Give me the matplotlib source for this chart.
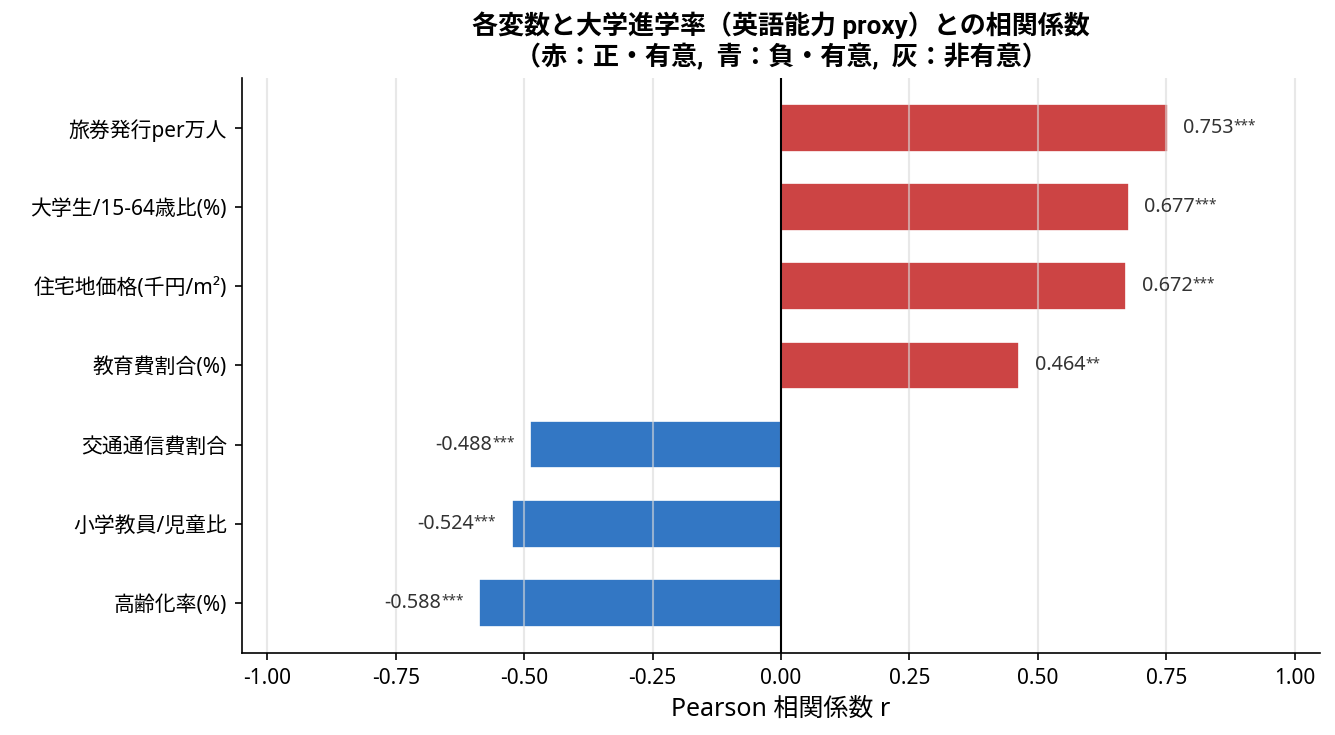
import matplotlib
matplotlib.use("Agg")
import matplotlib.pyplot as plt

plt.rcParams['font.family'] = ['Noto Sans', 'Noto Sans CJK JP', 'DejaVu Sans']
plt.rcParams['axes.unicode_minus'] = False

categories = ["高齢化率(%)", "小学教員/児童比", "交通通信費割合", "教育費割合(%)",
              "住宅地価格(千円/m²)", "大学生/15-64歳比(%)", "旅券発行per万人"]
r_values = [-0.588, -0.524, -0.488, 0.464, 0.672, 0.677, 0.753]
stars = ["***", "***", "***", "**", "***", "***", "***"]
xticks = [-1.00, -0.75, -0.50, -0.25, 0.00, 0.25, 0.50, 0.75, 1.00]

RED = "#cc4444"
BLUE = "#3377c4"
colors = [RED if v > 0 else BLUE for v in r_values]

fig = plt.figure(figsize=(8.9, 4.9), dpi=150)
ax = fig.add_axes([0.181, 0.1116, 0.989 - 0.181, 0.894 - 0.1116])

y = list(range(len(categories)))
ax.barh(y, r_values, height=0.6, color=colors, edgecolor="white", linewidth=0.8)
ax.axvline(0, color="black", linewidth=1)
ax.grid(axis="x", color="#d9d9d9", alpha=0.6, linewidth=1)

ax.set_xlim(-1.05, 1.05)
fig.canvas.draw()
renderer = fig.canvas.get_renderer()
trans = ax.transData.inverted()

for yi, v, s in zip(y, r_values, stars):
    if v > 0:
        t = ax.text(v + 0.03, yi, f"{v:.3f}", ha="left", va="center", fontsize=9.5, color="#333333")
        ax.annotate(s, xy=(1.0, 0.97), xycoords=t, ha="left", va="top", fontsize=6.5, color="#333333")
    else:
        st = ax.text(v - 0.03, yi, s, ha="right", va="center", fontsize=6.5, color="#333333",
                     alpha=0)
        bb = st.get_window_extent(renderer)
        st.remove()
        x_end = trans.transform((bb.x0, bb.y0))[0]
        t = ax.text(x_end, yi, f"{v:.3f}", ha="right", va="center", fontsize=9.5, color="#333333")
        ax.annotate(s, xy=(1.0, 0.97), xycoords=t, ha="left", va="top", fontsize=6.5, color="#333333")

ax.set_yticks(y)
ax.set_yticklabels(categories, fontsize=10)
ax.set_xticks(xticks)
ax.set_xticklabels([f"{t:.2f}" for t in xticks], fontsize=10)
ax.set_xlabel("Pearson 相関係数 r", fontsize=12)
ax.set_title("各変数と大学進学率（英語能力 proxy）との相関係数\n（赤：正・有意,  青：負・有意,  灰：非有意）",
             fontsize=12.5, fontweight="bold", linespacing=1.2,
             family=['Roboto', 'Noto Sans CJK JP', 'DejaVu Sans'])
ax.spines["top"].set_visible(False)
ax.spines["right"].set_visible(False)

fig.savefig("out.png", dpi=150)
